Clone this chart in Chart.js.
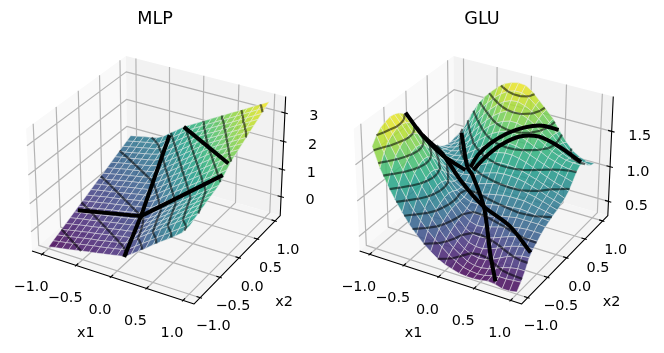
<!DOCTYPE html>
<html><head><meta charset="utf-8">
<style>html,body{margin:0;padding:0;background:#fff;width:664px;height:353px;overflow:hidden}
canvas{position:absolute;top:0}</style>
<script src="https://cdn.jsdelivr.net/npm/chart.js@4/dist/chart.umd.js"></script>
</head><body>
<canvas id="mlp" width="332" height="353" style="left:-11px"></canvas>
<canvas id="glu" width="364" height="353" style="left:300px"></canvas>
<script>
const gridX1=[-1,-.9,-.8,-.7,-.6,-.5,-.4,-.3,-.2,-.1,0,.1,.2,.3,.4,.5,.6,.7,.8,.9,1];
const gridX2=gridX1;
const x1Ticks=[-1,-.5,0,.5,1], x2Ticks=[-1,-.5,0,.5,1];
const tickText=["\u22121.0","\u22120.5","0.0","0.5","1.0"];
const mlpZTicks=[0,1,2,3], mlpZText=["0","1","2","3"];
const gluZTicks=[.5,1,1.5], gluZText=["0.5","1.0","1.5"];
const mlpZLim=[-.7,3.57], gluZLim=[.29,1.98];
const mlpLevels=[-.4,-.03,.34,.71,1.08,1.45,1.82,2.19,2.56,2.93,3.3];
const gluLevels=[.43,.58,.74,.89,1.05,1.2,1.36,1.51,1.67,1.82];
const mlpZ=[
[-.63,-.58,-.54,-.49,-.44,-.39,-.34,-.30,-.25,-.20,-.15,-.10,.06,.24,.42,.62,.80,.98,1.16,1.36,1.68],
[-.55,-.50,-.46,-.41,-.36,-.31,-.26,-.22,-.17,-.12,-.07,.02,.20,.38,.56,.74,.92,1.10,1.28,1.46,1.76],
[-.47,-.43,-.38,-.33,-.28,-.23,-.19,-.14,-.09,-.04,.02,.20,.38,.56,.74,.92,1.10,1.28,1.46,1.64,1.82],
[-.40,-.35,-.30,-.25,-.20,-.16,-.11,-.06,-.01,.04,.08,.26,.44,.62,.80,.98,1.16,1.34,1.52,1.70,1.88],
[-.32,-.27,-.22,-.17,-.13,-.08,-.03,.02,.07,.11,.16,.33,.51,.69,.87,1.05,1.23,1.41,1.59,1.77,1.95],
[-.24,-.19,-.14,-.10,-.05,0,.05,.10,.14,.19,.24,.39,.57,.75,.93,1.11,1.29,1.47,1.65,1.83,2.01],
[-.16,-.11,-.07,-.02,.03,.08,.13,.17,.22,.27,.32,.45,.63,.81,.99,1.17,1.35,1.53,1.71,1.89,2.07],
[-.08,-.04,.01,.06,.11,.16,.20,.25,.30,.35,.40,.51,.69,.87,1.05,1.23,1.41,1.59,1.77,1.95,2.13],
[-.01,.04,.09,.14,.19,.23,.28,.33,.38,.43,.47,.65,.83,1.01,1.19,1.37,1.55,1.73,1.91,2.09,2.27],
[.07,.12,.17,.22,.26,.31,.36,.41,.46,.50,.61,.79,.97,1.15,1.33,1.51,1.69,1.87,2.05,2.23,2.41],
[.15,.20,.25,.29,.34,.39,.44,.49,.53,.58,.75,.93,1.11,1.29,1.47,1.65,1.83,2.01,2.19,2.37,2.55],
[.23,.28,.32,.37,.42,.47,.52,.56,.61,.71,.89,1.07,1.25,1.43,1.61,1.79,1.97,2.15,2.33,2.51,2.65],
[.31,.35,.40,.45,.50,.55,.59,.64,.69,.85,1.03,1.21,1.39,1.57,1.75,1.93,2.11,2.29,2.46,2.60,2.74],
[.38,.43,.48,.53,.58,.62,.67,.72,.81,.99,1.17,1.35,1.53,1.71,1.89,2.07,2.25,2.41,2.55,2.69,2.83],
[.46,.51,.56,.61,.65,.70,.75,.80,.95,1.13,1.31,1.49,1.67,1.85,2.03,2.21,2.36,2.50,2.64,2.78,2.92],
[.54,.59,.64,.68,.73,.78,.83,.91,1.09,1.27,1.45,1.63,1.81,1.99,2.17,2.31,2.45,2.59,2.73,2.87,3.01],
[.62,.67,.71,.76,.81,.86,.91,1.05,1.23,1.41,1.59,1.77,1.95,2.13,2.26,2.40,2.54,2.68,2.82,2.96,3.10],
[.70,.74,.79,.84,.89,.94,1.01,1.19,1.37,1.55,1.73,1.91,2.08,2.22,2.35,2.49,2.63,2.77,2.91,3.05,3.19],
[.77,.82,.87,.92,.97,1.01,1.15,1.33,1.51,1.69,1.87,2.03,2.17,2.31,2.45,2.58,2.72,2.86,3.00,3.14,3.28],
[.85,.90,.95,1.00,1.04,1.11,1.29,1.47,1.65,1.83,1.98,2.12,2.26,2.40,2.54,2.67,2.81,2.95,3.09,3.23,3.37],
[.93,.98,1.03,1.07,1.12,1.25,1.43,1.61,1.79,1.93,2.07,2.21,2.35,2.49,2.63,2.77,2.90,3.04,3.18,3.32,3.46]];
const gluZ=[
[1.72,1.45,1.25,1.08,.93,.79,.68,.58,.50,.43,.38,.35,.32,.31,.31,.32,.34,.33,.30,.30,.32],
[1.82,1.61,1.41,1.24,1.08,.94,.82,.71,.62,.54,.46,.40,.35,.33,.32,.33,.36,.38,.38,.39,.40],
[1.88,1.72,1.55,1.38,1.22,1.07,.94,.82,.71,.60,.51,.44,.38,.35,.35,.37,.41,.45,.48,.50,.50],
[1.91,1.77,1.62,1.47,1.32,1.17,1.03,.90,.77,.65,.55,.47,.42,.40,.41,.45,.50,.55,.59,.62,.63],
[1.93,1.81,1.67,1.53,1.38,1.23,1.08,.94,.81,.69,.58,.51,.48,.48,.51,.55,.60,.64,.67,.69,.70],
[1.92,1.81,1.69,1.55,1.41,1.26,1.11,.97,.84,.72,.62,.57,.56,.58,.61,.65,.69,.72,.74,.75,.75],
[1.89,1.79,1.67,1.54,1.40,1.25,1.11,.98,.85,.74,.67,.64,.65,.68,.71,.74,.77,.79,.80,.80,.80],
[1.84,1.74,1.62,1.49,1.35,1.21,1.08,.96,.85,.77,.73,.73,.75,.78,.81,.83,.85,.85,.85,.85,.84],
[1.76,1.66,1.54,1.40,1.27,1.14,1.02,.92,.85,.81,.81,.83,.86,.88,.90,.91,.92,.91,.90,.88,.87],
[1.65,1.55,1.43,1.30,1.17,1.06,.97,.91,.88,.88,.90,.93,.95,.97,.98,.98,.98,.96,.94,.92,.90],
[1.53,1.43,1.31,1.19,1.08,1.00,.95,.93,.94,.97,1.00,1.03,1.05,1.06,1.06,1.05,1.03,1.01,.98,.95,.92],
[1.40,1.31,1.21,1.11,1.03,.98,.97,.99,1.02,1.07,1.10,1.13,1.14,1.14,1.13,1.11,1.08,1.05,1.01,.98,.95],
[1.28,1.20,1.12,1.05,1.01,1.00,1.02,1.06,1.11,1.16,1.20,1.22,1.22,1.21,1.19,1.16,1.13,1.09,1.05,1.02,.98],
[1.18,1.11,1.05,1.02,1.02,1.04,1.09,1.15,1.21,1.26,1.29,1.31,1.31,1.29,1.26,1.22,1.18,1.14,1.10,1.07,1.03],
[1.09,1.04,1.01,1.01,1.04,1.10,1.17,1.24,1.31,1.36,1.39,1.40,1.39,1.36,1.32,1.28,1.24,1.20,1.17,1.14,1.11],
[1.02,1.00,1.00,1.03,1.09,1.17,1.26,1.34,1.41,1.46,1.49,1.50,1.48,1.44,1.39,1.34,1.29,1.26,1.23,1.21,1.20],
[.97,.98,1.01,1.07,1.15,1.25,1.35,1.44,1.51,1.56,1.59,1.59,1.56,1.51,1.45,1.39,1.33,1.29,1.26,1.25,1.25],
[.94,.98,1.04,1.13,1.24,1.35,1.45,1.54,1.61,1.66,1.68,1.67,1.63,1.57,1.49,1.42,1.34,1.28,1.24,1.22,1.22],
[.93,1.00,1.09,1.21,1.34,1.46,1.56,1.65,1.72,1.76,1.77,1.74,1.69,1.61,1.52,1.43,1.33,1.25,1.19,1.16,1.15],
[.95,1.05,1.18,1.33,1.47,1.58,1.68,1.76,1.82,1.85,1.85,1.81,1.73,1.64,1.54,1.42,1.31,1.21,1.15,1.11,1.10],
[.96,1.10,1.30,1.47,1.60,1.70,1.79,1.86,1.90,1.92,1.91,1.85,1.75,1.65,1.55,1.40,1.27,1.17,1.11,1.08,1.08]];
const mlpLines=[
[[.1,-1,-.12],[-.05,-.345,.336],[-.41,1,1.35]],
[[-.968,-.365,-.12],[-.05,-.345,.336],[1,-.2,2.36]],
[[-.2,1,1.79],[1,-.06,2.58]]];
const gluLines=[
[[-1,-.25,1.83],[-.845,-.12,1.5],[-.648,.035,1.2],[-.393,.162,1]],
[[-.845,-.12,1.5],[-.66,.056,1.2],[-.34,-.053,.98],[.073,-.224,.83],[.549,-.377,.76],[.975,-.62,.65]],
[[-.95,1,.99],[-.409,.238,1],[-.281,.144,.97],[.11,-.24,.82],[.45,-.677,.5],[.683,-.957,.34]],
[[-.358,.227,1.02],[-.344,.401,1.12],[-.211,.467,1.28],[-.002,.528,1.45],[.204,.615,1.55],[.355,.799,1.53],[.489,.988,1.42]],
[[-.29,.182,1.02],[-.206,.335,1.15],[-.061,.456,1.3],[.13,.621,1.4],[.326,.774,1.38],[.569,.851,1.27],[.896,.828,1.15]]];
const viridis=[[68,1,84],[72,40,120],[62,74,137],[49,104,142],[38,130,142],[31,158,137],[53,183,121],[109,205,89],[180,222,44],[253,231,37]];

const LIM=1.15, HX=.5952, HZ=.4464, DIST=10, SCALE=1560, CY=174, TITLE_H=36;
const conf={};
function cmap(t){t=Math.max(0,Math.min(1,t))*(viridis.length-1);const i=Math.min(viridis.length-2,Math.floor(t)),f=t-i;
  const a=viridis[i],b=viridis[i+1];return [0,1,2].map(k=>Math.round(a[k]+(b[k]-a[k])*f));}
function makeProj(zLim){const mid=(zLim[0]+zLim[1])/2,half=(zLim[1]-zLim[0])/2;
  return (x,y,z)=>{const cx=x/LIM*HX,cy=y/LIM*HX,cz=(z-mid)/half*HZ;
    const u=.866025*cx+.5*cy, v=-.25*cx+.433013*cy+.866025*cz, d=.433013*cx-.75*cy+.5*cz;
    return {x:u/(DIST-d),y:v/(DIST-d),d};};}
function segs(list){const out=[];list.forEach(s=>{out.push(...s,{x:NaN,y:NaN});});return out;}
function contours(Z,levels,P){const out=[];
  levels.forEach(L=>{const pts=[];
    for(let r=0;r<Z.length-1;r++)for(let c=0;c<gridX1.length-1;c++){
      const n=[[c,r],[c+1,r],[c+1,r+1],[c,r+1]],cr=[];
      for(let e=0;e<4;e++){const A=n[e],B=n[(e+1)%4],za=Z[A[1]][A[0]],zb=Z[B[1]][B[0]];
        if((za<L)!==(zb<L)){const t=(L-za)/(zb-za);
          cr.push(P(gridX1[A[0]]+t*(gridX1[B[0]]-gridX1[A[0]]),gridX2[A[1]]+t*(gridX2[B[1]]-gridX2[A[1]]),L));}}
      for(let i=0;i+1<cr.length;i+=2)pts.push(cr[i],cr[i+1],{x:NaN,y:NaN});
    }
    out.push(...pts);});
  return out;}
const surfacePlugin={id:'surface3d',
  beforeDatasetsDraw(chart){const o=conf[chart.canvas.id],P=o.proj,z0=o.zLim[0],z1=o.zLim[1],c=chart.ctx;
    const sx=chart.scales.x,sy=chart.scales.y,px=p=>[sx.getPixelForValue(p.x),sy.getPixelForValue(p.y)];
    const poly=(pts,col)=>{c.beginPath();pts.forEach((p,i)=>{const q=px(p);i?c.lineTo(q[0],q[1]):c.moveTo(q[0],q[1]);});c.closePath();c.fillStyle=col;c.fill();};
    poly([P(-LIM,-LIM,z0),P(-LIM,LIM,z0),P(-LIM,LIM,z1),P(-LIM,-LIM,z1)],'#f9f9f9');
    poly([P(-LIM,LIM,z0),P(LIM,LIM,z0),P(LIM,LIM,z1),P(-LIM,LIM,z1)],'#f2f2f2');
    poly([P(-LIM,-LIM,z0),P(LIM,-LIM,z0),P(LIM,LIM,z0),P(-LIM,LIM,z0)],'#f5f5f5');
  },
  beforeDatasetDraw(chart,args){const ds=chart.data.datasets[args.index];if(!ds.surfaceZ)return;
    const Z=ds.surfaceZ,n=gridX1.length,pts=args.meta.data,c=chart.ctx,cells=[];
    let lo=Infinity,hi=-Infinity;Z.forEach(r=>r.forEach(v=>{lo=Math.min(lo,v);hi=Math.max(hi,v);}));
    for(let r=0;r<Z.length-1;r++)for(let k=0;k<n-1;k++){const ids=[r*n+k,r*n+k+1,(r+1)*n+k+1,(r+1)*n+k];
      cells.push({ids,d:ids.reduce((a,i)=>a+ds.data[i].d,0),z:(Z[r][k]+Z[r][k+1]+Z[r+1][k]+Z[r+1][k+1])/4});}
    cells.sort((a,b)=>a.d-b.d);
    c.save();
    cells.forEach(q=>{const C=cmap((q.z-lo)/(hi-lo));c.beginPath();
      q.ids.forEach((i,j)=>{j?c.lineTo(pts[i].x,pts[i].y):c.moveTo(pts[i].x,pts[i].y);});c.closePath();
      c.fillStyle=`rgba(${C[0]},${C[1]},${C[2]},.85)`;c.fill();
      c.strokeStyle='rgba(235,235,235,.55)';c.lineWidth=.85;c.stroke();});
    c.restore();
  },
  afterDatasetsDraw(chart){const o=conf[chart.canvas.id],P=o.proj,z0=o.zLim[0],c=chart.ctx,sx=chart.scales.x,sy=chart.scales.y;
    c.save();c.fillStyle='#000';c.font='14.4px "DejaVu Sans"';c.textAlign='center';c.textBaseline='middle';
    const put=(p,dx,dy,t)=>c.fillText(t,sx.getPixelForValue(p.x)+dx,sy.getPixelForValue(p.y)+dy);
    x1Ticks.forEach((v,i)=>put(P(v,-LIM,z0),-11,33,tickText[i]));
    x2Ticks.forEach((v,i)=>put(P(LIM,v,z0),13,29,tickText[i]));
    o.zTicks.forEach((v,i)=>put(P(LIM,LIM,v),o.zDx,o.zDy,o.zText[i]));
    put(P(0,-LIM,z0),-25,56,'x1');put(P(LIM,0,z0),45,44,'x2');
    c.restore();}
};
Chart.register(surfacePlugin);
function panel(id,title,Z,zLim,levels,lines,zTicks,zText,width,centre,zDx,zDy,tension){
  const P=makeProj(zLim),z0=zLim[0],z1=zLim[1],grid=[],axes=[],ticks=[];
  conf[id]={proj:P,zLim,zTicks,zText,zDx,zDy};
  x1Ticks.forEach(v=>{grid.push([P(v,-LIM,z0),P(v,LIM,z0),P(v,LIM,z1)]);ticks.push([P(v,-LIM-.025,z0),P(v,-LIM+.05,z0)]);});
  x2Ticks.forEach(v=>{grid.push([P(LIM,v,z0),P(-LIM,v,z0),P(-LIM,v,z1)]);ticks.push([P(LIM-.05,v,z0),P(LIM+.025,v,z0)]);});
  zTicks.forEach(v=>{grid.push([P(-LIM,-LIM,v),P(-LIM,LIM,v),P(LIM,LIM,v)]);ticks.push([P(LIM-.05,LIM,v),P(LIM+.04,LIM,v)]);});
  axes.push([P(-LIM,-LIM,z0),P(LIM,-LIM,z0),P(LIM,LIM,z0),P(LIM,LIM,z1)]);
  const nodes=[];Z.forEach((row,r)=>row.forEach((v,k)=>nodes.push(P(gridX1[k],gridX2[r],v))));
  const lineDs=(data,color,w,order,t)=>({data,showLine:true,pointRadius:0,borderColor:color,borderWidth:w,order,tension:t||0,borderJoinStyle:'round',spanGaps:false,fill:false});
  const datasets=[
    lineDs(segs(axes),'#000',1.1,4),
    lineDs(segs(ticks),'#000',1.1,4),
    lineDs(segs(grid),'#b4b4b4',1.2,5),
    {data:nodes,showLine:false,pointRadius:0,order:3,surfaceZ:Z},
    lineDs(contours(Z,levels,P),'rgba(0,0,0,.55)',2.2,2)
  ];
  lines.forEach(l=>datasets.push(lineDs(l.map(p=>P(p[0],p[1],p[2])),'#000',4,1,tension)));
  new Chart(document.getElementById(id),{type:'scatter',data:{datasets},options:{
    responsive:false,animation:false,events:[],layout:{padding:0},
    scales:{x:{type:'linear',display:false,min:-centre/SCALE,max:(width-centre)/SCALE},
            y:{type:'linear',display:false,min:(CY-353)/SCALE,max:(CY-TITLE_H)/SCALE}},
    plugins:{legend:{display:false},tooltip:{enabled:false},
      title:{display:true,text:title,color:'#000',font:{family:'DejaVu Sans',size:17.6,weight:'normal',lineHeight:1.2},padding:{top:8.5,bottom:6.38}}}}});
}
panel('mlp','MLP',mlpZ,mlpZLim,mlpLevels,mlpLines,mlpZTicks,mlpZText,332,169.4,29,3.5,0);
panel('glu','GLU',gluZ,gluZLim,gluLevels,gluLines,gluZTicks,gluZText,364,186,28,5,.3);
</script></body></html>
